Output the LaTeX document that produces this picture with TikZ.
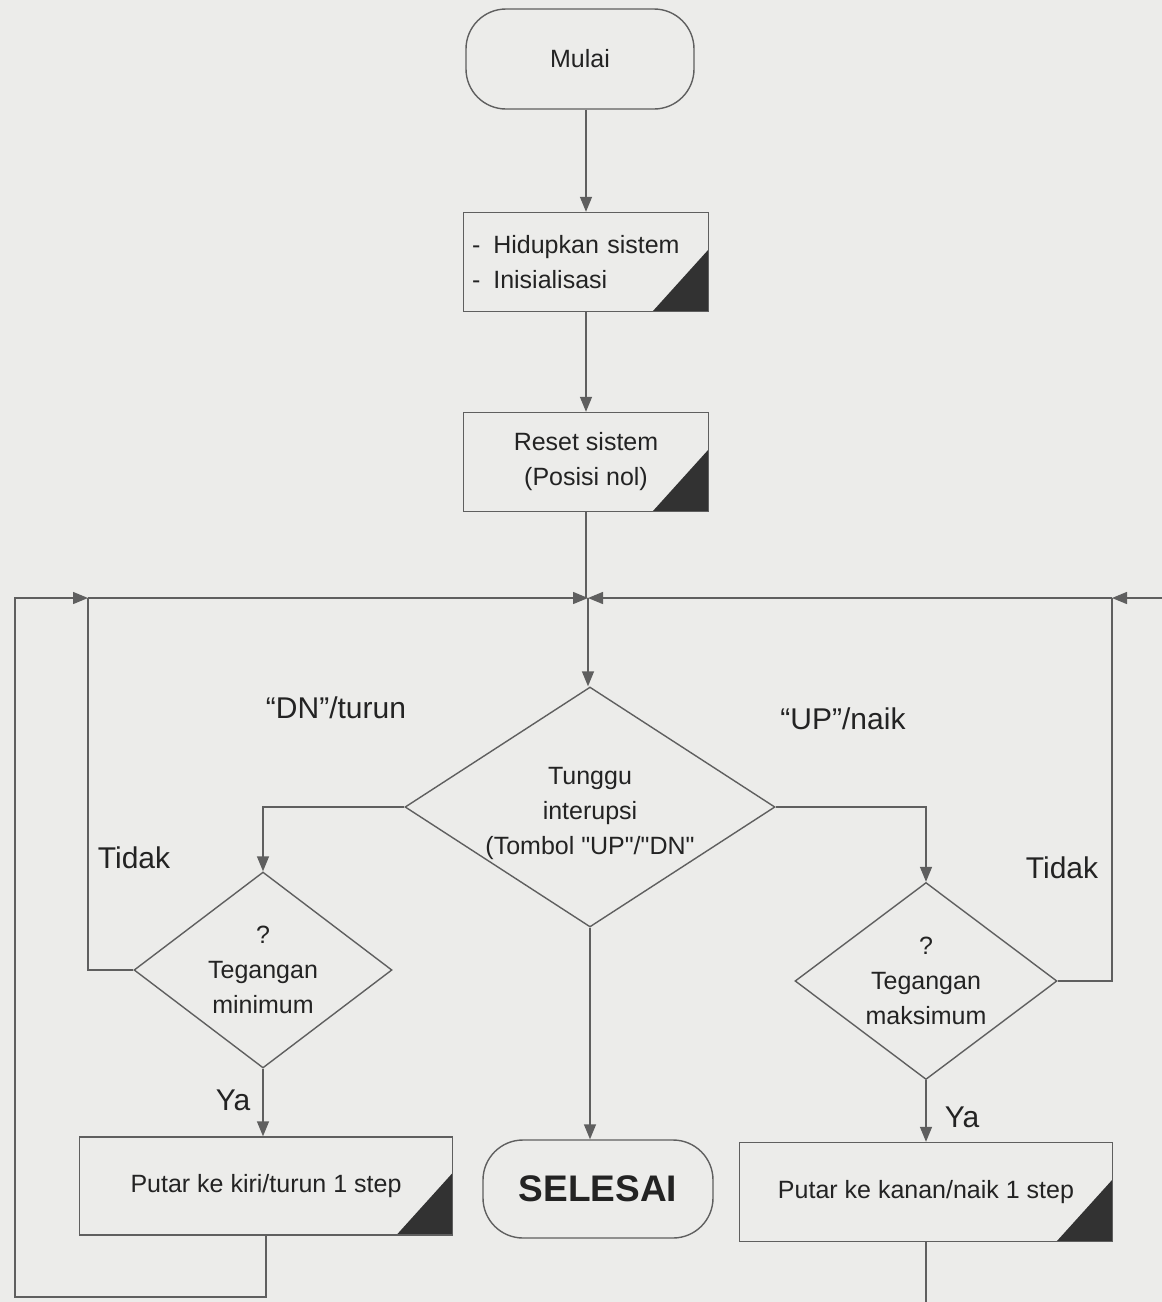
\documentclass[tikz,border=0pt]{standalone}
\usepackage{fontspec}
\setmainfont{Liberation Sans}
\usetikzlibrary{shapes, arrows.meta, positioning}
\definecolor{kertas}{RGB}{236,236,234}
\definecolor{garisabu}{RGB}{95,95,95}
\definecolor{sudut}{RGB}{50,50,50}
\definecolor{tinta}{RGB}{35,35,35}
\newcommand{\hurufkotak}{\fontsize{25}{35}\selectfont}
\newcommand{\hurufket}{\fontsize{30}{36}\selectfont}
\tikzstyle{terminal} = [draw=garisabu, line width=1.4pt, rectangle, rounded corners=40pt, minimum width=228pt, minimum height=100pt, font=\hurufkotak, text=tinta]
\tikzstyle{proses} = [draw=garisabu, line width=1.4pt, rectangle, minimum width=245pt, minimum height=99pt, align=center, font=\hurufkotak, text=tinta,
  path picture={\fill[sudut] (path picture bounding box.south east) -- ([xshift=-56pt]path picture bounding box.south east) -- ([yshift=62pt]path picture bounding box.south east) -- cycle;}]
\tikzstyle{keputusan} = [draw=garisabu, line width=1.4pt, diamond, inner sep=0pt]
\tikzstyle{isi} = [font=\hurufkotak, text=tinta, align=center]
\tikzstyle{ket} = [font=\hurufket, text=tinta]
\tikzstyle{garis} = [draw=garisabu, line width=1.4pt]
\tikzstyle{panah} = [draw=garisabu, line width=1.4pt, -{Triangle[length=15pt,width=12pt]}]

\begin{document}
\begin{tikzpicture}[x=1pt, y=-1pt]
	\fill[kertas] (0,0) rectangle (1162,1302);
	\useasboundingbox (0,0) rectangle (1162,1302);

	% jalur utama
	\node [terminal] (mulai) at (580,59) {Mulai};
	\node [proses, text width=228pt, align=left, inner xsep=7pt] (hidup) at (586,262) {-\hspace{13pt}Hidupkan sistem\\-\hspace{13pt}Inisialisasi};
	\node [proses] (reset) at (586,462) {Reset sistem\\(Posisi nol)};
	\coordinate (simpul) at (588,598);
	\node [keputusan, minimum width=370pt, minimum height=240pt] (tunggu) at (590,807) {};
	\node [isi] at ([yshift=-6pt]tunggu) {Tunggu\\interupsi\\(Tombol \textquotedbl UP\textquotedbl/\textquotedbl DN\textquotedbl};

	% cabang turun dan naik
	\node [keputusan, minimum width=258pt, minimum height=196pt] (tegmin) at (263,970) {};
	\node [isi] at (tegmin) {?\\Tegangan\\minimum};
	\node [keputusan, minimum width=262pt, minimum height=197pt] (tegmax) at (926,981) {};
	\node [isi] at (tegmax) {?\\Tegangan\\maksimum};
	\node [proses, minimum width=373pt, minimum height=98pt] (kiri) at (266,1186) {Putar ke kiri/turun 1 step};
	\node [proses, minimum width=373pt, minimum height=99pt] (kanan) at (926,1192) {Putar ke kanan/naik 1 step};
	\node [terminal, minimum width=230pt, minimum height=98pt, font=\fontsize{37}{40}\selectfont\bfseries] (selesai) at (598,1189) {SELESAI};

	% label
	\node [ket] at (336,708) {“DN”/turun};
	\node [ket] at (843,719) {“UP”/naik};
	\node [ket] at (134,858) {Tidak};
	\node [ket] at (1062,868) {Tidak};
	\node [ket] at (233,1100) {Ya};
	\node [ket] at (962,1117) {Ya};

	% titik bantu loop
	\coordinate (gabungkiri) at (88,598);
	\coordinate (gabungkanan) at (1112,598);
	\coordinate (bawahkiri) at (15,1297);
	\coordinate (bawahkanan) at (1185,1340);

	% konektor
	\draw [panah] (hidup.north |- mulai.south) -- (hidup.north);
	\draw [panah] (hidup.south) -- (reset.north);
	\draw [garis] (reset.south) -- (reset.south |- simpul);
	\draw [panah] (simpul) -- (simpul |- tunggu.north);
	\draw [panah] (tunggu.west) -| (tegmin.north);
	\draw [panah] (tunggu.east) -| (tegmax.north);
	\draw [panah] (tunggu.south) -- (tunggu.south |- selesai.north);
	\draw [panah] (tegmin.south) -- (tegmin.south |- kiri.north);
	\draw [panah] (tegmax.south) -- (tegmax.south |- kanan.north);
	\draw [garis] (tegmin.west) -| (gabungkiri);
	\draw [garis] (tegmax.east) -| (gabungkanan);
	\draw [panah] (kiri.south) |- (bawahkiri) |- (gabungkiri);
	\draw [panah] (kanan.south) |- (bawahkanan) |- (gabungkanan);
	\draw [panah] (gabungkiri) -- (simpul);
	\draw [panah] (gabungkanan) -- (simpul);
\end{tikzpicture}
\end{document}
